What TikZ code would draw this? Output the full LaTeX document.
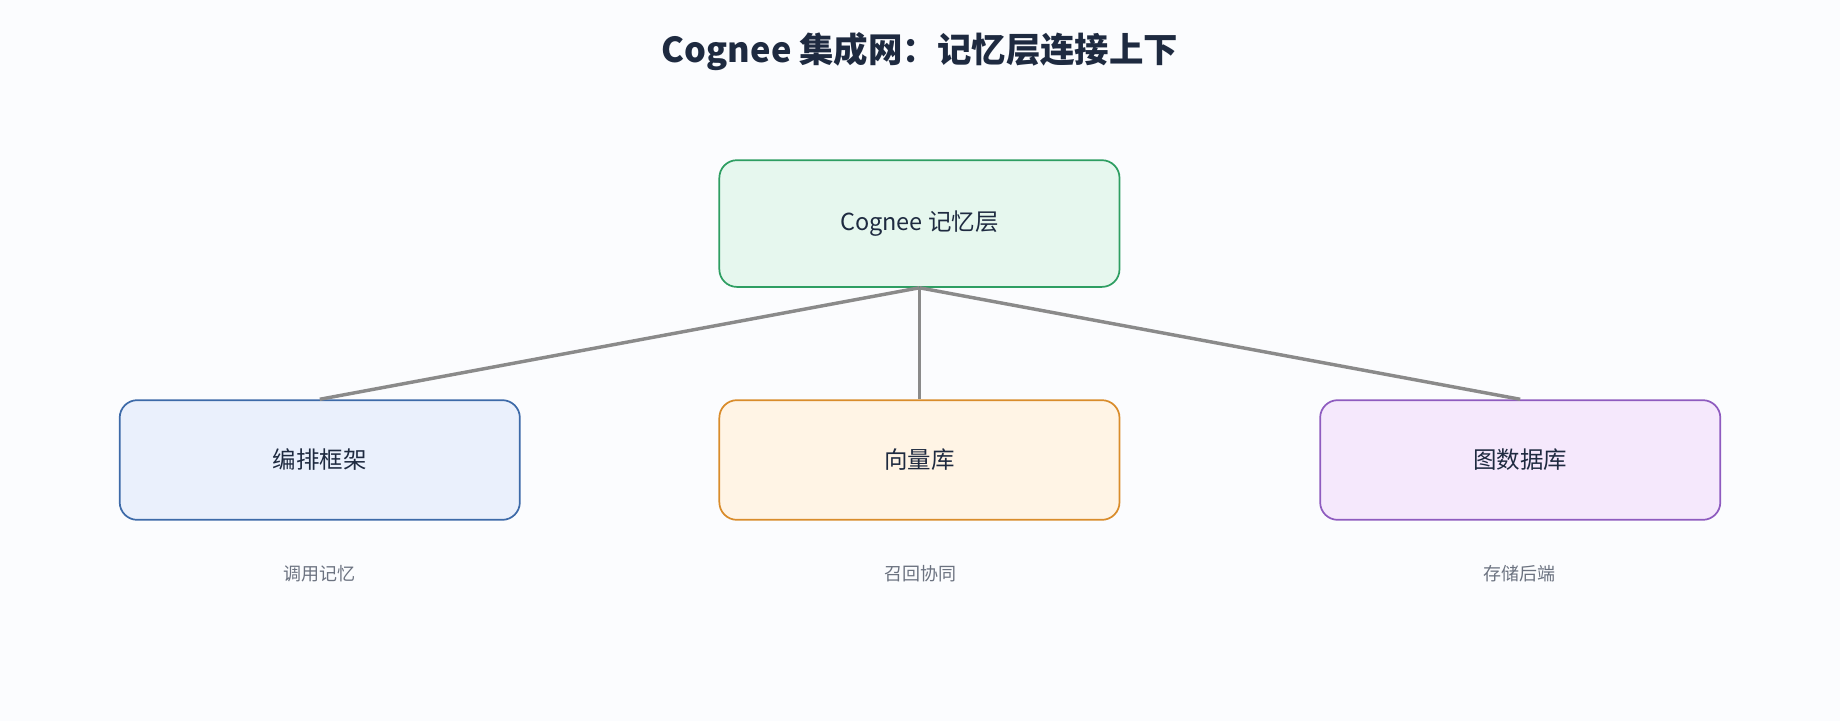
\documentclass[tikz,border=0pt]{standalone}
\usepackage{fontspec}
\setmainfont{Noto Sans CJK SC}
\definecolor{bg}{HTML}{FBFCFE}\definecolor{ink}{HTML}{1E2A40}\definecolor{capc}{HTML}{6B7280}
\definecolor{linkc}{HTML}{8A8A8A}
\definecolor{gF}{HTML}{E6F7EE}\definecolor{gD}{HTML}{2E9E62}
\definecolor{bF}{HTML}{EAF0FC}\definecolor{bD}{HTML}{3D6AA8}
\definecolor{oF}{HTML}{FFF4E5}\definecolor{oD}{HTML}{D98C2B}
\definecolor{pF}{HTML}{F5E8FC}\definecolor{pD}{HTML}{8E5BBF}
\begin{document}
\begin{tikzpicture}[x=0.75pt,y=-0.75pt,
  box/.style={draw,rounded corners=11.25pt,line width=1.1pt,minimum width=255.75pt,minimum height=81pt,inner sep=0pt,font=\fontsize{15}{18}\selectfont,text=ink},
  box2/.style={box,minimum height=76.5pt},
  lbl/.style={font=\fontsize{11.5}{14}\selectfont,text=capc},
  link/.style={draw=linkc,line width=2.2pt}]
\fill[bg] (0,0) rectangle (1568,614);
\useasboundingbox (0,0) rectangle (1568,614);
\node[font=\fontsize{22}{26}\selectfont\bfseries,text=ink] (title) at (784,44) {Cognee 集成网：记忆层连接上下};
\node[box,fill=gF,draw=gD] (top) at (783.5,190.5) {Cognee 记忆层};
\node[box2,fill=bF,draw=bD] (l) at (272.5,392) {编排框架};
\node[box2,fill=oF,draw=oD] (m) at (783.5,392) {向量库};
\node[box2,fill=pF,draw=pD] (r) at (1295.5,392) {图数据库};
\draw[link] (top.south) -- (l.north);
\draw[link] (top.south) -- (m.north);
\draw[link] (top.south) -- (r.north);
\node[lbl] (cl) at (272,489) {调用记忆};
\node[lbl] (cm) at (784,489) {召回协同};
\node[lbl] (cr) at (1295,489) {存储后端};
\end{tikzpicture}
\end{document}
